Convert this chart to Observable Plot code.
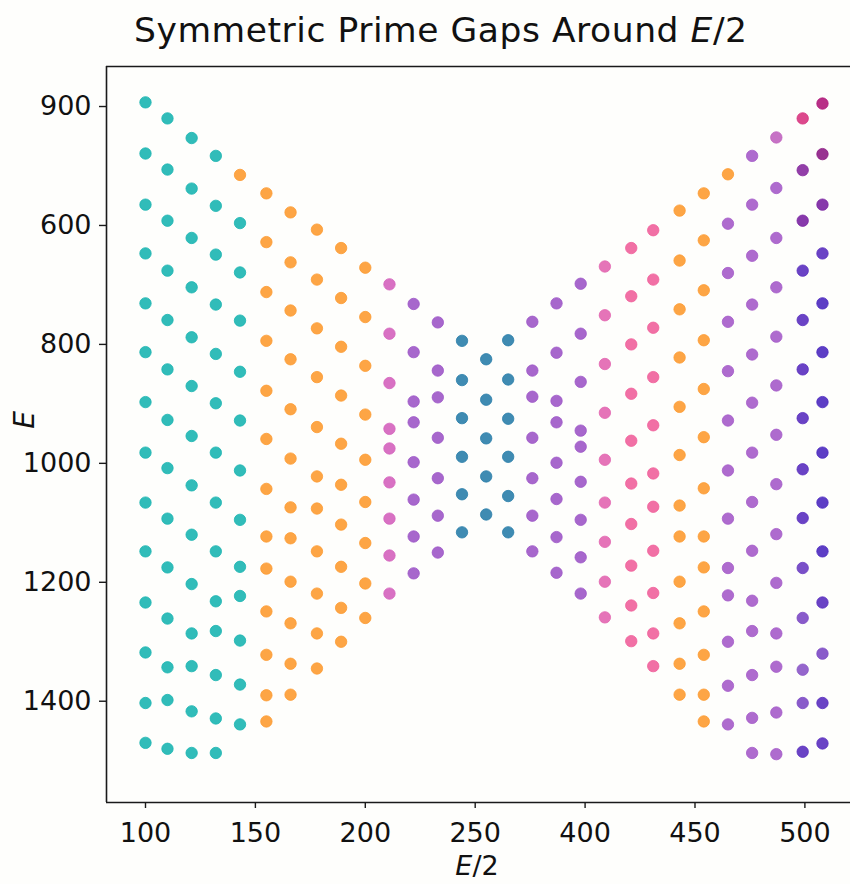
<!DOCTYPE html>
<html>
<head>
<meta charset="utf-8">
<script src="https://cdn.jsdelivr.net/npm/d3@7"></script>
<script src="https://cdn.jsdelivr.net/npm/@observablehq/plot@0.6"></script>
<style>
  html, body { margin: 0; padding: 0; background: #fefefc; }
  #chart svg { display: block; }
</style>
</head>
<body>
<div id="chart"></div>
<script>
// ---- tick values and their (as printed) labels ----
const xTicks = [100, 150, 200, 250, 300, 350, 400];
const xTickLabels = ["100", "150", "200", "250", "400", "450", "500"];
const yTicks = [400, 600, 800, 1000, 1200, 1400];
const yTickLabels = ["900", "600", "800", "1000", "1200", "1400"];

// ---- E/2 position of each column ----
const columnX = [100, 110, 121, 132, 143, 155, 166, 178, 189, 200, 211, 222, 233, 244, 255,
                 265, 276, 287, 298, 309, 321, 331, 343, 354, 365, 376, 387, 399, 408];

// ---- E values in each column ----
const columnE = [
  [393, 479, 565, 647, 731, 813, 897, 982, 1066, 1148, 1234, 1318, 1403, 1470],
  [420, 506, 592, 676, 759, 842, 927, 1008, 1093, 1175, 1261, 1343, 1398, 1480],
  [453, 538, 621, 704, 788, 870, 954, 1037, 1120, 1203, 1286, 1341, 1417, 1487],
  [483, 567, 649, 733, 816, 899, 982, 1066, 1148, 1232, 1282, 1356, 1429, 1487],
  [515, 596, 679, 760, 846, 928, 1012, 1095, 1174, 1223, 1298, 1372, 1439],
  [546, 628, 712, 794, 878, 959, 1043, 1123, 1177, 1249, 1322, 1390, 1434],
  [578, 662, 743, 825, 909, 992, 1074, 1126, 1199, 1269, 1337, 1389],
  [607, 691, 773, 855, 939, 1022, 1076, 1148, 1219, 1286, 1345],
  [638, 722, 804, 886, 967, 1036, 1103, 1174, 1243, 1300],
  [671, 754, 836, 918, 994, 1065, 1134, 1202, 1260],
  [699, 782, 865, 942, 975, 1032, 1093, 1155, 1219],
  [732, 813, 896, 931, 998, 1061, 1123, 1185],
  [763, 844, 889, 957, 1025, 1088, 1150],
  [794, 860, 924, 989, 1052, 1116],
  [825, 893, 958, 1022, 1086],
  [793, 859, 925, 989, 1055, 1116],
  [762, 844, 888, 957, 1025, 1088, 1148],
  [731, 814, 895, 931, 999, 1060, 1124, 1184],
  [698, 782, 863, 945, 972, 1031, 1095, 1158, 1219],
  [669, 751, 833, 915, 994, 1066, 1132, 1199, 1259],
  [638, 719, 800, 883, 962, 1034, 1102, 1172, 1239, 1299],
  [608, 691, 772, 855, 936, 1017, 1073, 1147, 1218, 1286, 1341],
  [575, 659, 741, 822, 905, 986, 1071, 1123, 1199, 1269, 1337, 1389],
  [546, 625, 709, 793, 875, 956, 1042, 1123, 1175, 1249, 1322, 1389, 1434],
  [514, 597, 680, 762, 845, 928, 1012, 1093, 1176, 1222, 1300, 1374, 1439],
  [483, 565, 651, 733, 817, 898, 982, 1065, 1147, 1231, 1282, 1356, 1428, 1487],
  [452, 537, 621, 704, 787, 869, 952, 1035, 1119, 1201, 1286, 1342, 1419, 1489],
  [420, 507, 592, 676, 759, 842, 924, 1010, 1092, 1176, 1260, 1347, 1403, 1485],
  [395, 480, 565, 647, 731, 813, 897, 982, 1066, 1148, 1234, 1320, 1403, 1471]
];

// ---- colour group of each column (or of each point, for mixed columns) ----
const columnGroup = [
  "teal", "teal", "teal", "teal",
  ["orange", "teal", "teal", "teal", "teal", "teal", "teal", "teal", "teal", "teal", "teal", "teal", "teal"],
  "orange", "orange", "orange", "orange", "orange",
  "magenta", "purple", "purple",
  "blue", "blue", "blue",
  "purple", "purple", "purple",
  "rosy", "pink", "pink",
  "orange", "orange",
  ["orange", "lilac", "lilac", "lilac", "lilac", "lilac", "lilac", "lilac", "lilac", "lilac", "lilac", "lilac", "lilac"],
  "lilac",
  ["orchid", "lilac", "lilac", "lilac", "lilac", "lilac", "lilac", "lilac", "lilac", "lilac", "lilac", "lilac", "lilac", "lilac"],
  ["hotpink", "grape", "plum", "violet", "violet", "violet", "violet", "violet", "violet", "amethyst", "mauve", "lavender", "mauve", "violet"],
  ["crimson", "wine", "plum", "violet", "indigo", "indigo", "indigo", "indigo", "indigo", "indigo", "violet", "mauve", "violet", "violet"]
];

// ---- palette ----
const groupNames  = ["teal", "orange", "magenta", "purple", "blue", "rosy", "pink", "lilac", "orchid",
                     "hotpink", "crimson", "wine", "grape", "plum", "violet", "indigo", "amethyst", "mauve", "lavender"];
const groupColors = ["#1bb5b1", "#fd9b31", "#d462bc", "#9d57c7", "#2a7eaa", "#e265b0", "#f0619b", "#a55bc9", "#c063bf",
                     "#d8357f", "#b0197a", "#8d1c85", "#862a9f", "#7a24a2", "#5a2fbf", "#4b29bf", "#6b3dc2", "#7c49c4", "#8a55c6"];

const points = columnE.flatMap((es, i) =>
  es.map((e, j) => ({
    x: columnX[i],
    E: e,
    group: Array.isArray(columnGroup[i]) ? columnGroup[i][j] : columnGroup[i]
  }))
);

const xDomain = [82.26, 420.75];
const yDomain = [332.7, 1570.3];

const chart = Plot.plot({
  width: 850,
  height: 884,
  marginLeft: 106,
  marginRight: 0,
  marginTop: 66,
  marginBottom: 82,
  style: { background: "transparent", fontFamily: "DejaVu Sans", fontSize: "27px", color: "#111" },
  x: {
    domain: xDomain,
    ticks: xTicks,
    tickFormat: d => xTickLabels[xTicks.indexOf(d)],
    tickSize: 6,
    tickPadding: 14,
    label: null
  },
  y: {
    domain: yDomain,
    reverse: true,
    ticks: yTicks,
    tickFormat: d => yTickLabels[yTicks.indexOf(d)],
    tickSize: 7,
    tickPadding: 8,
    label: null
  },
  color: { type: "ordinal", domain: groupNames, range: groupColors },
  marks: [
    Plot.ruleX([xDomain[0]], { stroke: "#1a1a1a", strokeWidth: 1.6 }),
    Plot.ruleY(yDomain, { stroke: "#1a1a1a", strokeWidth: 1.6 }),
    Plot.dot(points, {
      x: "x", y: "E",
      fill: "group", stroke: "group",
      r: 5.7, fillOpacity: 0.9, strokeOpacity: 0.9, strokeWidth: 0.9
    })
  ]
});

document.getElementById("chart").appendChild(chart);

const svg = d3.select(chart);
svg.selectAll("[aria-label='x-axis tick'], [aria-label='y-axis tick']").attr("stroke", "#1a1a1a").attr("stroke-width", 1.4);

// title
const title = svg.append("text")
  .attr("x", 134).attr("y", 42)
  .attr("text-anchor", "start")
  .attr("textLength", 613)
  .attr("lengthAdjust", "spacing")
  .style("font-family", "DejaVu Sans")
  .style("font-size", "34.5px")
  .attr("fill", "#111");
title.append("tspan").text("Symmetric Prime Gaps Around ");
title.append("tspan").style("font-style", "italic").text("E");
title.append("tspan").text("/2");

// x label
const xl = svg.append("text")
  .attr("x", 477).attr("y", 875)
  .attr("text-anchor", "middle")
  .style("font-family", "DejaVu Sans")
  .style("font-size", "27px")
  .attr("fill", "#111");
xl.append("tspan").style("font-style", "italic").text("E");
xl.append("tspan").text("/2");

// y label
svg.append("text")
  .attr("transform", "translate(34,420) rotate(-90)")
  .attr("text-anchor", "middle")
  .style("font-family", "DejaVu Sans")
  .style("font-size", "28px")
  .style("font-style", "italic")
  .attr("fill", "#111")
  .text("E");
</script>
</body>
</html>
